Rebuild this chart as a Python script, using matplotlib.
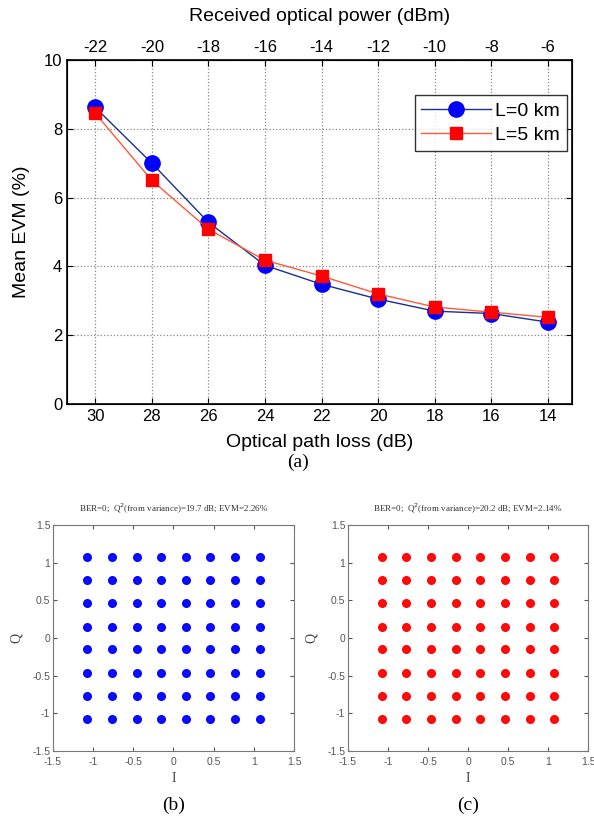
import numpy as np
import matplotlib.pyplot as plt

# path loss on the bottom axis, received power on the top axis
path_loss = [30, 28, 26, 24, 22, 20, 18, 16, 14]
rx_power = [-22, -20, -18, -16, -14, -12, -10, -8, -6]

# mean EVM (%)
evm_0km = [8.62, 7.0, 5.28, 4.03, 3.48, 3.05, 2.70, 2.63, 2.38]
evm_5km = [8.45, 6.5, 5.08, 4.18, 3.72, 3.20, 2.82, 2.67, 2.52]

# 64-QAM constellation levels (cluster centres)
iq_levels = [-1.08, -0.77, -0.46, -0.15, 0.15, 0.46, 0.77, 1.08]
title_b = "BER=0;  Q$^2$(from variance)=19.7 dB; EVM=2.26%"
title_c = "BER=0;  Q$^2$(from variance)=20.2 dB; EVM=2.14%"

plt.rcParams['font.family'] = ['Liberation Sans', 'DejaVu Sans']

fig = plt.figure(figsize=(5.94, 8.21), dpi=100)

# top panel: EVM vs loss
ax = fig.add_axes([0.1128, 0.5079, 0.850, 0.419])
ax.plot(path_loss, evm_0km, color='#1a2f8f', lw=1, marker='o', ms=11,
        mfc='blue', mec='blue', label='L=0 km', zorder=3)
ax.plot(path_loss, evm_5km, color='#ff5a3c', lw=1, marker='s', ms=9,
        mfc='red', mec='red', label='L=5 km', zorder=4)
ax.set_xlim(31, 13.15)
ax.set_ylim(0, 10)
ax.set_xticks(path_loss)
ax.set_yticks([0, 2, 4, 6, 8, 10])
ax.grid(True, color='#888888', linestyle=':', linewidth=0.9)
ax.tick_params(direction='in', labelsize=12, length=4, right=True)
for s in ax.spines.values():
    s.set_linewidth(1.2)
ax.set_xlabel('Optical path loss (dB)', fontsize=14, labelpad=7)
ax.set_ylabel('Mean EVM (%)', fontsize=14, labelpad=10)

top = ax.twiny()
top.set_xlim(ax.get_xlim())
top.set_xticks(path_loss)
top.set_xticklabels([str(p) for p in rx_power])
top.tick_params(direction='in', labelsize=12, length=4)
top.set_xlabel('Received optical power (dBm)', fontsize=14, labelpad=14)

leg = ax.legend(loc='upper right', bbox_to_anchor=(0.99, 0.897), fontsize=14,
                frameon=True, fancybox=False, edgecolor='black',
                handlelength=3.6, borderpad=0.35, labelspacing=0.35,
                handletextpad=0.2, borderaxespad=0)
leg.get_frame().set_linewidth(1.0)

fig.text(0.502, 0.437, '(a)', family='Liberation Serif', fontsize=14,
         ha='center', va='center')


# constellation panels
def constellation(rect, color, title, tag):
    cx = fig.add_axes(rect)
    gi, gq = np.meshgrid(iq_levels, iq_levels)
    cx.plot(gi.ravel(), gq.ravel(), ls='none', marker='o', ms=5.5,
            mfc=color, mec=color, alpha=0.95)
    cx.set_xlim(-1.5, 1.5)
    cx.set_ylim(-1.5, 1.5)
    ticks = [-1.5, -1, -0.5, 0, 0.5, 1, 1.5]
    labels = ['-1.5', '-1', '-0.5', '0', '0.5', '1', '1.5']
    cx.set_xticks(ticks)
    cx.set_xticklabels(labels)
    cx.set_yticks(ticks)
    cx.set_yticklabels(labels)
    cx.tick_params(direction='in', labelsize=7.5, length=3, colors='#555555',
                   top=True, right=True)
    cx.tick_params(axis='x', pad=4)
    cx.tick_params(axis='y', pad=2)
    for s in cx.spines.values():
        s.set_color('#777777')
        s.set_linewidth(0.8)
    cx.set_xlabel('I', family='Liberation Serif', fontsize=10,
                  color='#444444', labelpad=4)
    cx.set_ylabel('Q', family='Liberation Serif', fontsize=10,
                  color='#444444', labelpad=7)
    cx.set_title(title, family='Liberation Serif', fontsize=6.5,
                 color='#333333', pad=9)
    mid = rect[0] + rect[2] / 2
    fig.text(mid, 0.019, tag, family='Liberation Serif', fontsize=14,
             ha='center', va='center')
    return cx


constellation([0.0892, 0.0853, 0.4057, 0.2753], 'blue', title_b, '(b)')
constellation([0.5859, 0.0853, 0.404, 0.2753], 'red', title_c, '(c)')

fig.savefig('out.png', dpi=100)
